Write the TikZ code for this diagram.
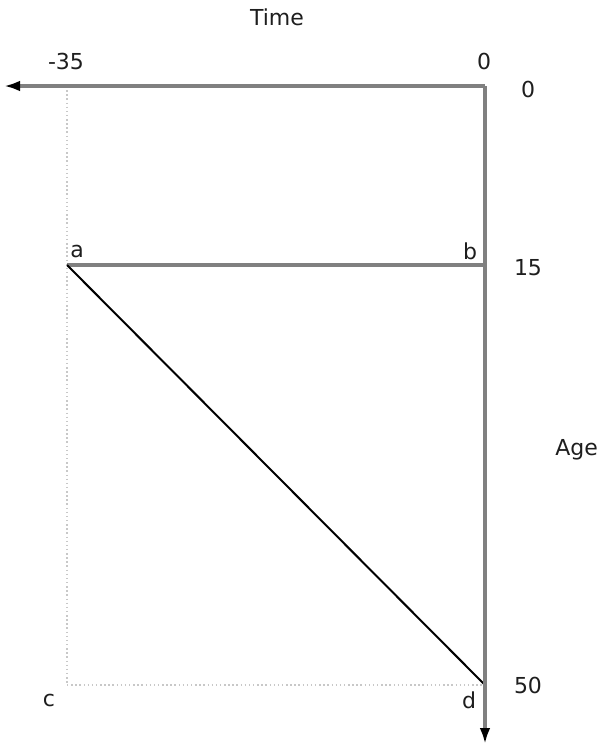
\documentclass[tikz,border=0pt]{standalone}
\usepackage{fontspec}
\setmainfont{DejaVu Sans}
\usetikzlibrary{arrows.meta}

\definecolor{axisgray}{RGB}{128,128,128}
\definecolor{guidegray}{RGB}{200,200,200}
\definecolor{labelgray}{RGB}{30,30,30}

\begin{document}
\begin{tikzpicture}[x=0.75pt, y=-0.75pt,
    axis/.style={draw=axisgray, line width=2.4pt, -{Latex[length=12pt, width=8pt, black]}},
    guide/.style={draw=guidegray, line width=1.1pt, dotted},
    agepath/.style={draw=axisgray, line width=2.4pt},
    cohort/.style={draw=black, line width=1.5pt},
    lbl/.style={text=labelgray, inner sep=0pt, font=\fontsize{16.5}{19}\selectfont}]
  \useasboundingbox (0,0) rectangle (604,744);
  % corner points of the diagram
  \coordinate (o) at (485, 86);
  \coordinate (t35) at (67, 86);
  \coordinate (a) at (67, 265);
  \coordinate (b) at (485, 265);
  \coordinate (c) at (67, 685);
  \coordinate (d) at (485, 685);
  \coordinate (tend) at (4, 86);
  \coordinate (aend) at (485, 744);
  % guides and lines
  \draw[guide] (t35) -- (c);
  \draw[guide] (c) -- (d);
  \draw[agepath] (a) -- (b);
  \draw[cohort] (a) -- (d);
  \draw[axis] (o) -- (tend);
  \draw[axis] (o) -- (aend);
  % labels
  \node[lbl] (time) at (277, 17) {Time};
  \node[lbl] (tm35) at (66, 61) {-35};
  \node[lbl] (t0) at (484, 61) {0};
  \node[lbl] (a0) at (528, 89) {0};
  \node[lbl] (a15) at (528, 268) {15};
  \node[lbl, anchor=west] (age) at (555, 450) {Age};
  \node[lbl] (a50) at (528, 685) {50};
  \node[lbl] (la) at (77, 251) {a};
  \node[lbl] (lb) at (470, 251) {b};
  \node[lbl] (lc) at (49, 700) {c};
  \node[lbl] (ld) at (469, 700) {d};
\end{tikzpicture}
\end{document}
